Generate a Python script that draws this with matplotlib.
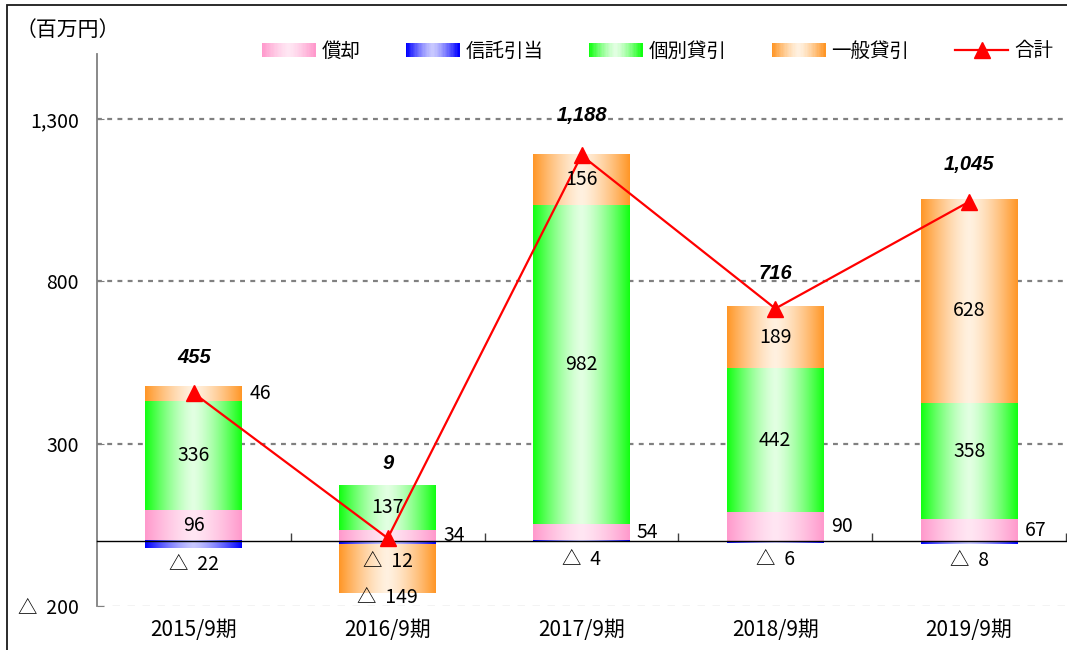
import numpy as np
import matplotlib
matplotlib.use("Agg")
import matplotlib.pyplot as plt
from matplotlib.patches import Rectangle, Patch
from matplotlib.lines import Line2D
from matplotlib.legend_handler import HandlerBase
from matplotlib.transforms import blended_transform_factory
from matplotlib.ticker import FuncFormatter

plt.rcParams['font.family'] = ['Noto Sans CJK JP', 'DejaVu Sans']

# ---------------- data ----------------
categories = ["2015/9期", "2016/9期", "2017/9期", "2018/9期", "2019/9期"]
shokyaku = [96, 34, 54, 90, 67]            # 償却
shintaku = [-22, -12, -4, -6, -8]          # 信託引当
kobetsu = [336, 137, 982, 442, 358]        # 個別貸引
ippan = [46, -149, 156, 189, 628]          # 一般貸引
total = [455, 9, 1188, 716, 1045]          # 合計
series_names = ["償却", "信託引当", "個別貸引", "一般貸引"]
total_name = "合計"
yticks = [-200, 300, 800, 1300]
unit_label = "（百万円）"

# ---------------- style ----------------
edge_cols = ["#FF99CC", "#0000FF", "#11FF11", "#FF9626"]
center_cols = ["#FFE6F3", "#C8C8FF", "#E2FFE2", "#FFF1E0"]
label_pos = [
    ["in", "right", "right", "right", "right"],   # 償却
    ["below"] * 5,                                # 信託引当
    ["in"] * 5,                                   # 個別貸引
    ["right", "bottom", "in", "in", "in"],        # 一般貸引
]
label_nudge = [
    [0, 0, 0, 0, 0],
    [0, 0, 0, 0, 0],
    [0, 0, 0, 0, 7],
    [0, 0, 0, 0, -6.5],
]
total_dy = [26, 54, 29, 25, 27]

W, H = 1067, 650
fig = plt.figure(figsize=(W / 100, H / 100), dpi=100)
ax = fig.add_axes([97 / W, (H - 606) / H, (1066 - 97) / W, (606 - 54) / H])


def hex2rgb(h):
    h = h.lstrip('#')
    return np.array([int(h[i:i + 2], 16) / 255 for i in (0, 2, 4)])


def grad_colors(edge, center, n=200):
    xx = np.linspace(0, 1, n)
    t = np.abs(xx - 0.5) / 0.5
    m = t ** 1.4
    e, c = hex2rgb(edge), hex2rgb(center)
    return c[None, :] + (e - c)[None, :] * m[:, None]


def fmt_val(v):
    return f"{v:,}" if v >= 0 else f"△  {abs(v):,}"


x = np.arange(len(categories))
width = 0.5
all_series = [shokyaku, shintaku, kobetsu, ippan]
pos_bottom = np.zeros(len(x))
neg_bottom = np.zeros(len(x))

lab_fs = 14
for si, vals in enumerate(all_series):
    vals = np.array(vals, dtype=float)
    bottoms = np.where(vals >= 0, pos_bottom, neg_bottom)
    bars = ax.bar(x, vals, width, bottom=bottoms, color=edge_cols[si],
                  edgecolor='none', zorder=2)
    g = grad_colors(edge_cols[si], center_cols[si])[None, :, :]
    for bi, r in enumerate(bars):
        x0, w, y0, h = r.get_x(), r.get_width(), r.get_y(), r.get_height()
        ax.imshow(g, extent=[x0, x0 + w, y0, y0 + h], aspect='auto',
                  interpolation='bilinear', zorder=2.1)
        v = int(vals[bi])
        p = label_pos[si][bi]
        nd = label_nudge[si][bi]
        if p == "in":
            ax.annotate(fmt_val(v), (x0 + w / 2, y0 + h / 2), xytext=(0, nd),
                        textcoords='offset points', ha='center', va='center',
                        fontsize=lab_fs, zorder=5)
        elif p == "right":
            ax.annotate(fmt_val(v), (x0 + w, y0 + h / 2), xytext=(5, nd),
                        textcoords='offset points', ha='left', va='center',
                        fontsize=lab_fs, zorder=5)
        elif p == "below":
            ax.annotate(fmt_val(v), (x0 + w / 2, y0 + h), xytext=(0, -12 + nd),
                        textcoords='offset points', ha='center', va='center',
                        fontsize=lab_fs, zorder=5)
        elif p == "bottom":
            ax.annotate(fmt_val(v), (x0 + w / 2, y0 + h), xytext=(0, -3 + nd),
                        textcoords='offset points', ha='center', va='center',
                        fontsize=lab_fs, zorder=5)
    pos_bottom = pos_bottom + np.where(vals >= 0, vals, 0)
    neg_bottom = neg_bottom + np.where(vals < 0, vals, 0)

# total line
ax.plot(x, total, color='#FF0000', lw=1.6, marker='^', ms=11, zorder=4)
for i, t in enumerate(total):
    ax.annotate(f"{t:,}", (x[i], t), xytext=(0, total_dy[i]), textcoords='offset points',
                ha='center', va='center', fontsize=14.5, fontweight='bold',
                fontstyle='italic', family=['Liberation Sans', 'DejaVu Sans'], zorder=5)

ax.set_xlim(-0.5, len(x) - 0.5)
ax.set_ylim(-200, 1500)

# grid
for yv in yticks:
    if yv == -200:
        ax.axhline(yv, color='#A6A6A6', lw=0.9, dashes=(6, 6), zorder=1)
    else:
        ax.axhline(yv, color='#808080', lw=1.6, dashes=(2.2, 2.4), zorder=1)

# spines / ticks
for s in ['top', 'right']:
    ax.spines[s].set_visible(False)
ax.spines['left'].set_color('#808080')
ax.spines['left'].set_linewidth(1.3)
ax.spines['left'].set_bounds(-200, 1500)
ax.spines['bottom'].set_position(('data', 0))
ax.spines['bottom'].set_color('black')
ax.spines['bottom'].set_linewidth(1.0)
ax.spines['bottom'].set_zorder(3)

ax.set_yticks(yticks)
ax.yaxis.set_major_formatter(FuncFormatter(lambda v, p: fmt_val(int(v))))
ax.tick_params(axis='y', direction='in', length=5, color='#808080', pad=13,
               labelsize=14)
ax.set_xticks(np.arange(len(x)) + 0.5)
ax.set_xticklabels([])
ax.tick_params(axis='x', direction='in', length=6, color='#404040', width=1)

trans = blended_transform_factory(ax.transData, ax.transAxes)
for i, c in enumerate(categories):
    ax.text(x[i], -0.0435, c, transform=trans, ha='center', va='center', fontsize=15)

fig.text(16 / W, 1 - 30 / H, unit_label, ha='left', va='center', fontsize=15)


# legend with gradient handles
class GradientHandler(HandlerBase):
    def __init__(self, edge, center):
        super().__init__()
        self.cols = grad_colors(edge, center, 40)

    def create_artists(self, legend, orig_handle, xdescent, ydescent, width, height,
                       fontsize, trans):
        n = len(self.cols)
        arts = []
        for k in range(n):
            arts.append(Rectangle((-xdescent + k * width / n, -ydescent), width / n * 1.08,
                                  height, facecolor=self.cols[k], edgecolor='none',
                                  transform=trans))
        return arts


handles = [Patch(label=n) for n in series_names]
hmap = {h: GradientHandler(edge_cols[i], center_cols[i]) for i, h in enumerate(handles)}
line_h = Line2D([], [], color='#FF0000', lw=1.6, marker='^', ms=11)
fig.legend(handles + [line_h], series_names + [total_name], handler_map=hmap,
           loc='center left', bbox_to_anchor=(262 / W, 1 - 51 / H), ncol=5,
           frameon=False, fontsize=14, handlelength=2.75, handleheight=0.75,
           handletextpad=0.3, columnspacing=2.35, borderpad=0, borderaxespad=0)

# outer frame
fig.add_artist(Rectangle((7 / W, -0.1), 1.2, 1 - 5 / H + 0.1, transform=fig.transFigure,
                         fill=False, edgecolor='#1A1A1A', lw=1.3))

fig.savefig("out.png", dpi=100)
